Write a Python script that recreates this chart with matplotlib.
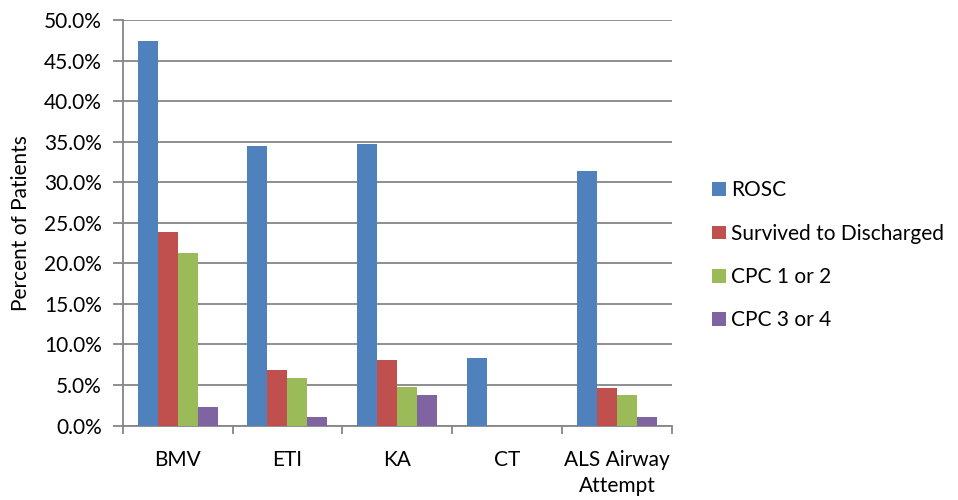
import matplotlib
matplotlib.use('Agg')
import matplotlib.pyplot as plt
from matplotlib.ticker import PercentFormatter
import numpy as np

# Категории и ряды
categories = ['BMV', 'ETI', 'KA', 'CT', 'ALS Airway\nAttempt']
series_names = ['ROSC', 'Survived to Discharged', 'CPC 1 or 2', 'CPC 3 or 4']
rosc = [47.4, 34.5, 34.7, 8.3, 31.4]
survived = [23.8, 6.8, 8.1, 0.0, 4.6]
cpc12 = [21.3, 5.9, 4.8, 0.0, 3.7]
cpc34 = [2.3, 1.0, 3.7, 0.0, 1.0]
colors = ['#4F81BD', '#C0504D', '#9BBB59', '#8064A2']

plt.rcParams['font.family'] = ['Lato', 'DejaVu Sans']
fs = 15

fig = plt.figure(figsize=(9.58, 5.0), dpi=100)
ax = fig.add_axes([0.128, 0.149, 0.5735, 0.811])

grid_color = '#868686'
x = np.arange(len(categories))
width = 0.182
all_series = [rosc, survived, cpc12, cpc34]
for i, vals in enumerate(all_series):
    ax.bar(x + (i - 1.5) * width, vals, width, color=colors[i], label=series_names[i], zorder=3)

ax.set_xlim(-0.5, len(categories) - 0.5)
ax.set_ylim(0, 50)
ax.set_yticks(np.arange(0, 50.1, 5))
ax.yaxis.set_major_formatter(PercentFormatter(decimals=1))
ax.grid(axis='y', color=grid_color, linewidth=1.3, zorder=0)

# Деления по границам категорий
ax.set_xticks(np.arange(-0.5, len(categories), 1))
ax.set_xticklabels([])
ax.set_xticks(x, minor=True)
ax.set_xticklabels(categories, minor=True, fontsize=fs, linespacing=1.35)
ax.tick_params(axis='x', which='minor', length=0, pad=18)
ax.tick_params(axis='x', which='major', length=6, color=grid_color, width=1.3)
ax.tick_params(axis='y', length=7, color=grid_color, width=1.3, labelsize=fs, pad=8)

for s in ['top', 'right']:
    ax.spines[s].set_visible(False)
for s in ['left', 'bottom']:
    ax.spines[s].set_color(grid_color)
    ax.spines[s].set_linewidth(1.3)

ax.set_ylabel('Percent of Patients', fontsize=fs, labelpad=9)

fig.legend(loc='center left', bbox_to_anchor=(0.735, 0.489), frameon=False,
           fontsize=fs, handlelength=0.65, handleheight=0.65, handletextpad=0.25,
           labelspacing=1.12, borderaxespad=0)

plt.savefig('out.png', dpi=100)
plt.close()
